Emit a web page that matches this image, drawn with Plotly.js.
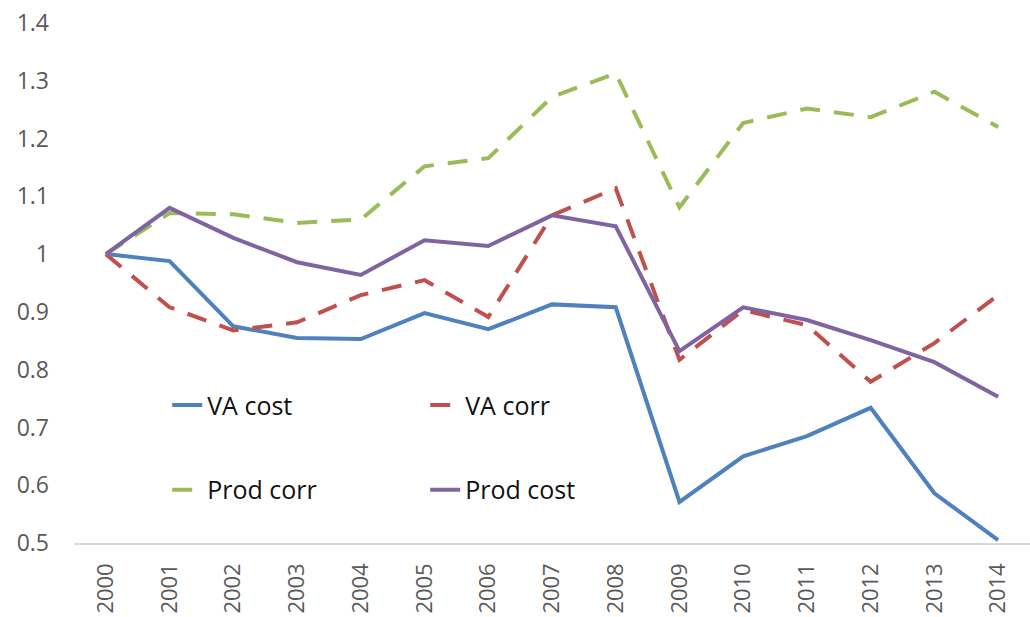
<!DOCTYPE html>
<html>
<head>
<meta charset="utf-8">
<script src="https://cdn.plot.ly/plotly-3.0.1.min.js"></script>
<style>html,body{margin:0;padding:0;background:#fff;}#chart{width:1030px;height:617px;}</style>
</head>
<body>
<div id="chart"></div>
<script>
var years = ['2000','2001','2002','2003','2004','2005','2006','2007','2008','2009','2010','2011','2012','2013','2014'];
var vaCost   = [1.000,0.988,0.875,0.855,0.853,0.898,0.870,0.913,0.908,0.571,0.650,0.685,0.734,0.586,0.505];
var vaCorr   = [1.000,0.908,0.868,0.882,0.929,0.955,0.891,1.067,1.114,0.817,0.903,0.877,0.779,0.846,0.929];
var prodCorr = [1.000,1.071,1.069,1.054,1.060,1.152,1.166,1.272,1.313,1.081,1.227,1.252,1.237,1.281,1.220];
var prodCost = [1.000,1.080,1.028,0.986,0.964,1.024,1.014,1.067,1.048,0.832,0.908,0.886,0.851,0.813,0.753];

var traces = [
  {x: years, y: vaCost, name: 'VA cost', type: 'scatter', mode: 'lines',
   line: {color: '#4F81BD', width: 4}, legend: 'legend'},
  {x: years, y: vaCorr, name: 'VA corr', type: 'scatter', mode: 'lines',
   line: {color: '#C0504D', width: 4, dash: '20px,14px'}, legend: 'legend'},
  {x: years, y: prodCorr, name: 'Prod corr', type: 'scatter', mode: 'lines',
   line: {color: '#9BBB59', width: 4, dash: '20px,14px'}, legend: 'legend2'},
  {x: years, y: prodCost, name: 'Prod cost', type: 'scatter', mode: 'lines',
   line: {color: '#8064A2', width: 4}, legend: 'legend2'}
];

var legendCommon = {
  orientation: 'h', xanchor: 'left', yanchor: 'middle',
  bgcolor: 'rgba(0,0,0,0)', entrywidth: 213, entrywidthmode: 'pixels',
  font: {family: 'Open Sans, sans-serif', size: 25, color: '#111'},
  traceorder: 'normal', itemclick: false
};

var layout = {
  width: 1030, height: 617,
  margin: {l: 74, r: 0, t: 23, b: 74},
  paper_bgcolor: '#fff', plot_bgcolor: '#fff',
  showlegend: true,
  legend: Object.assign({}, legendCommon, {x: 0.0975, y: 0.265}),
  legend2: Object.assign({}, legendCommon, {x: 0.0975, y: 0.102}),
  xaxis: {
    type: 'category', range: [-0.5, 14.5], tickangle: -90, showgrid: false, zeroline: false,
    showline: true, linecolor: '#d9d9d9', linewidth: 1.5, ticks: '',
    ticklabelstandoff: 10,
    tickfont: {family: 'Open Sans, sans-serif', size: 22, color: '#595959'},
    fixedrange: true
  },
  yaxis: {
    range: [0.5, 1.4], dtick: 0.1, tick0: 0.5, showgrid: false, zeroline: false,
    showline: false, ticks: '', ticklabelstandoff: 24,
    tickfont: {family: 'Open Sans, sans-serif', size: 23, color: '#595959'},
    fixedrange: true
  }
};

Plotly.newPlot('chart', traces, layout, {displayModeBar: false, staticPlot: true});
</script>
</body>
</html>
